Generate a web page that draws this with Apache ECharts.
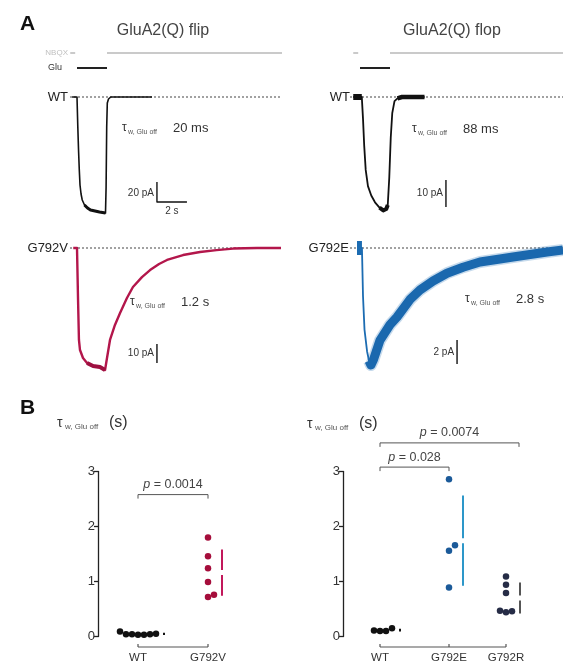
<!DOCTYPE html>
<html>
<head>
<meta charset="utf-8">
<title>GluA2(Q) deactivation</title>
<script src="https://cdn.jsdelivr.net/npm/echarts@6.0.0/dist/echarts.min.js"></script>
<style>
  html, body { margin: 0; padding: 0; background: #fff; }
  #main { width: 563px; height: 666px; }
</style>
</head>
<body>
<div id="main"></div>
<script>
'use strict';
// ---- A: example currents, time (s) from glutamate onset, current (pA) ----
var flipWtT = [-0.33, 0, 0.05, 0.1, 0.15, 0.2, 0.27, 0.35, 0.5, 0.7, 0.9, 1.2, 1.5, 1.9, 1.94, 1.98, 2.02, 2.1, 2.25, 5.0];
var flipWtI = [0, 0, -28, -52, -72, -88, -97, -103, -108, -111, -113, -114, -115, -116, -90, -30, -6, -2, 0, 0];
var flopWtT = [-0.45, 0.12, 0.2, 0.28, 0.38, 0.53, 0.75, 1.0, 1.3, 1.55, 1.75, 1.85, 1.95, 2.05, 2.15, 2.3, 2.5, 2.8, 3.2, 4.3];
var flopWtI = [0, 0, -8, -18, -27, -33, -36.5, -39, -41, -42, -41.5, -40, -30, -15, -6, -1.5, -0.5, 0, 0, 0];
var g792vT = [-0.25, 0, 0.07, 0.13, 0.2, 0.4, 0.67, 1.07, 1.53, 1.87, 2.0, 2.2, 2.53, 2.87, 3.33, 3.73, 4.33, 4.87, 5.47, 6.0, 7.07, 8.2, 9.3, 10.4, 12.0, 13.6];
var g792vI = [0, 0, -27.4, -48.4, -53.7, -57.9, -60.5, -62.1, -62.6, -64.2, -57.9, -48.4, -40.5, -34.2, -26.3, -20.5, -15.3, -11.6, -8.4, -6.3, -3.7, -2.1, -1.1, -0.3, 0, 0];
var g792eT = [-0.2, 0.13, 0.2, 0.3, 0.47, 0.6, 0.73, 0.9, 1.33, 2.0, 2.47, 3.33, 4.0, 4.87, 5.8, 6.87, 8.0, 9.33, 10.2, 12.47, 13.53];
var g792eI = [0, 0, -4, -6.8, -8.6, -9.4, -9.75, -9.3, -7.7, -6.4, -5.75, -4.3, -3.5, -2.75, -2.1, -1.6, -1.17, -0.92, -0.75, -0.33, -0.17];

// stimulus timing (s)
var gluPulse = [0, 2];
var nbqxPre = [-0.45, -0.12];
var nbqxFrom = 2;

// scale bars: flip WT, flop WT, G792V, G792E (pA) and time bar (s)
var scaleBarPA = [20, 10, 10, 2];
var scaleBarS = 2;

// ---- B: tau w, Glu off (s) ----
var flipGroups = ['WT', 'G792V'];
var wtFlipTau = [0.09, 0.04, 0.03, 0.03, 0.04, 0.04, 0.05];
var g792vTau = [1.80, 1.46, 1.24, 0.99, 0.76, 0.72];
var flopGroups = ['WT', 'G792E', 'G792R'];
var wtFlopTau = [0.15, 0.10, 0.10, 0.11];
var g792eTau = [2.86, 1.66, 1.56, 0.89];
var g792rTau = [1.09, 0.94, 0.79, 0.47, 0.44, 0.46];
var tauTicks = [0, 1, 2, 3];
var pFlip = ['0.0014'];
var pFlop = ['0.028', '0.0074'];

var FONT = 'Liberation Sans';
var PX_PER_S = 15;
var PX_PER_TAU = 165 / 3;
var DOT = 6;

function zip(t, v) { return t.map(function (x, i) { return [x, v[i]]; }); }
function inRange(d, a, b) { return d.filter(function (p) { return p[0] >= a && p[0] <= b; }); }

function timeAxis(gi, left, width, onsetPx) {
  var min = -(onsetPx - left) / PX_PER_S;
  return { gridIndex: gi, type: 'value', min: min, max: min + width / PX_PER_S, show: false };
}
function currentAxis(gi, top, height, zeroPx, pxPerUnit) {
  var max = (zeroPx - top) / pxPerUnit;
  return { gridIndex: gi, type: 'value', min: max - height / pxPerUnit, max: max, show: false };
}

var grids = [
  { left: 70, top: 48, width: 212, height: 25 },
  { left: 350, top: 48, width: 213, height: 25 },
  { left: 70, top: 80, width: 212, height: 145 },
  { left: 350, top: 80, width: 213, height: 145 },
  { left: 70, top: 236, width: 212, height: 145 },
  { left: 350, top: 236, width: 213, height: 145 },
  { left: 98, top: 471.5, width: 140, height: 165 },
  { left: 343, top: 471.5, width: 200, height: 165 }
];
var flipCat = [40, 110];
var flopCat = [37, 106, 163];

var xAxes = [
  timeAxis(0, 70, 212, 77), timeAxis(1, 350, 213, 360),
  timeAxis(2, 70, 212, 77), timeAxis(3, 350, 213, 360),
  timeAxis(4, 70, 212, 77), timeAxis(5, 350, 213, 360)
];
var yAxes = [
  { gridIndex: 0, type: 'value', min: 0, max: 5, show: false },
  { gridIndex: 1, type: 'value', min: 0, max: 5, show: false },
  currentAxis(2, 80, 145, 97, 1),
  currentAxis(3, 80, 145, 97, 2.7),
  currentAxis(4, 236, 145, 248, 1.9),
  currentAxis(5, 236, 145, 248, 12)
];

function groupAxisX(gi, width, cats, names) {
  return {
    gridIndex: gi, type: 'value', min: 0, max: width, position: 'bottom', offset: 10.5,
    axisLine: { show: false }, axisTick: { show: false }, splitLine: { show: false },
    axisLabel: {
      customValues: cats, margin: 5, fontSize: 11.5, fontFamily: FONT, color: '#333',
      formatter: function (v) { return names[cats.indexOf(v)] || ''; }
    }
  };
}
function groupAxisY(gi) {
  return {
    gridIndex: gi, type: 'value', min: tauTicks[0], max: tauTicks[tauTicks.length - 1], interval: 1,
    axisLine: { show: true, lineStyle: { color: '#222', width: 1.3 } },
    axisTick: { show: true, length: 4, lineStyle: { color: '#222', width: 1.3 } },
    axisLabel: { fontSize: 13, fontFamily: FONT, color: '#333', margin: 3 },
    splitLine: { show: false }
  };
}
xAxes.push(groupAxisX(6, 140, flipCat, flipGroups), groupAxisX(7, 200, flopCat, flopGroups));
yAxes.push(groupAxisY(6), groupAxisY(7));

var series = [];
function line(idx, data, color, width, z, opacity) {
  series.push({
    type: 'line', xAxisIndex: idx, yAxisIndex: idx, data: data, symbol: 'none', silent: true,
    z: z || 3, animation: false,
    lineStyle: { color: color, width: width, opacity: opacity == null ? 1 : opacity, cap: 'butt', join: 'round' }
  });
}
function baseline(idx) {
  line(idx, [[xAxes[idx].min, 0], [xAxes[idx].max, 0]], '#444', 1, 1);
  series[series.length - 1].lineStyle.type = [2, 2];
}

// stimulus bars
[0, 1].forEach(function (i) {
  line(i, [[nbqxPre[0], 4], [nbqxPre[1], 4]], '#b8b8b8', 1.5);
  line(i, [[nbqxFrom, 4], [xAxes[i].max, 4]], '#b8b8b8', 1.5);
  line(i, [[gluPulse[0], 1], [gluPulse[1], 1]], '#222', 2);
});

// flip WT
var flipWt = zip(flipWtT, flipWtI);
baseline(2);
line(2, flipWt, '#111', 1.6);
line(2, inRange(flipWt, 0.45, 1.9), '#111', 3);
// flop WT
var flopWt = zip(flopWtT, flopWtI);
baseline(3);
line(3, flopWt, '#111', 1.8);
line(3, inRange(flopWt, -0.45, 0.12), '#111', 6);
line(3, inRange(flopWt, 1.2, 1.85), '#111', 4);
line(3, inRange(flopWt, 2.5, 4.3), '#111', 4.5);
// G792V
var g792v = zip(g792vT, g792vI);
baseline(4);
line(4, g792v, '#b3164b', 2.4);
line(4, inRange(g792v, 0.5, 1.9), '#9e1040', 4);
// G792E
var g792e = zip(g792eT, g792eI);
baseline(5);
line(5, g792e, '#1c6cb2', 1.8);
line(5, inRange(g792e, 0.6, 14), '#1c6cb2', 12, 3, 0.25);
line(5, inRange(g792e, 0.6, 14), '#1a68ae', 9);
line(5, inRange(g792e, -0.2, 0.13), '#1c6cb2', 14);

// scale bars (anchor = bottom of the current bar)
var barAnchors = [[2, 5.33, -105], [3, 5.73, -40.7], [4, 5.33, -60.5], [5, 6.47, -9.67]];
barAnchors.forEach(function (a, i) {
  var pts = [[a[1], a[2] + scaleBarPA[i]], [a[1], a[2]]];
  if (i === 0) pts.push([a[1] + scaleBarS, a[2]]);
  line(a[0], pts, '#111', 1.4);
});

// B: swarm of points + mean ± SD
function swarm(vals, d) {
  var order = vals.map(function (v, i) { return i; }).sort(function (a, b) { return vals[a] - vals[b]; });
  var placed = [], off = [];
  order.forEach(function (i) {
    var y = vals[i] * PX_PER_TAU;
    for (var k = 0; k < 40; k++) {
      var o = k === 0 ? 0 : (k % 2 ? 1 : -1) * Math.ceil(k / 2) * d;
      var hit = placed.some(function (p) { var dx = p[0] - o, dy = p[1] - y; return dx * dx + dy * dy < d * d - 0.01; });
      if (!hit) { placed.push([o, y]); off[i] = o; break; }
    }
  });
  return off;
}
function meanSd(v) {
  var m = v.reduce(function (a, b) { return a + b; }, 0) / v.length;
  var s = Math.sqrt(v.reduce(function (a, b) { return a + (b - m) * (b - m); }, 0) / (v.length - 1));
  return [m, s];
}
function group(gi, center, vals, dotColor, barColor) {
  var off = swarm(vals, DOT);
  var st = meanSd(vals), m = st[0], sd = st[1];
  var bx = center + Math.max.apply(null, off) + 8;
  var gap = sd * PX_PER_TAU > 5 ? 2.5 / PX_PER_TAU : 0;
  series.push({
    type: 'scatter', xAxisIndex: gi, yAxisIndex: gi, silent: true, clip: false, z: 4, animation: false,
    data: vals.map(function (v, i) { return [center + off[i], v]; }),
    symbolSize: DOT + 0.5, itemStyle: { color: dotColor, opacity: 1 }
  });
  line(gi, [[bx, m - sd], [bx, m - gap], [bx, '-'], [bx, m + gap], [bx, m + sd]], barColor, 2);
}
group(6, flipCat[0], wtFlipTau, '#111', '#111');
group(6, flipCat[1], g792vTau, '#a50d3b', '#c2185b');
group(7, flopCat[0], wtFlopTau, '#111', '#111');
group(7, flopCat[1], g792eTau, '#1b5a99', '#2d97c9');
group(7, flopCat[2], g792rTau, '#262c46', '#555');

var chart = echarts.init(document.getElementById('main'));
chart.setOption({
  animation: false,
  backgroundColor: '#fff',
  grid: grids,
  xAxis: xAxes,
  yAxis: yAxes,
  series: series
});

// ---- annotations ----
function txt(x, y, s, size, o) {
  o = o || {};
  return {
    type: 'text', x: x, y: y, silent: true, z: 10,
    style: {
      text: s, fontSize: size, fontFamily: FONT, fontWeight: o.weight || 'normal',
      fontStyle: o.style || 'normal', fill: o.color || '#333',
      align: o.align || 'left', verticalAlign: 'middle',
      textAlign: o.align || 'left', textVerticalAlign: 'middle', rich: o.rich
    }
  };
}
function tauLabel(x, y, value, big) {
  var s = big ? 14 : 12;
  return [
    txt(x, y, 'τ', s, { color: '#333' }),
    txt(x + (big ? 8 : 6), y + 4, 'w, Glu off', big ? 8 : 7, { color: '#555' }),
    txt(x + (big ? 52 : 51), y, value, big ? 16 : 13, { color: '#333' })
  ];
}
function toPx(gi, pt) { return chart.convertToPixel({ gridIndex: gi }, pt); }

var g = [
  txt(20, 24, 'A', 21, { weight: 'bold', color: '#111' }),
  txt(20, 408, 'B', 21, { weight: 'bold', color: '#111' }),
  txt(163, 31, 'GluA2(Q) flip', 16, { align: 'center', color: '#444' }),
  txt(452, 31, 'GluA2(Q) flop', 16, { align: 'center', color: '#444' }),
  txt(68, 53, 'NBQX', 8, { align: 'right', color: '#c0c0c0' }),
  txt(62, 68, 'Glu', 9, { align: 'right', color: '#333' }),
  txt(68, 97, 'WT', 13, { align: 'right', color: '#222' }),
  txt(350, 97, 'WT', 13, { align: 'right', color: '#222' }),
  txt(68, 248, 'G792V', 13, { align: 'right', color: '#222' }),
  txt(349, 248, 'G792E', 13, { align: 'right', color: '#222' })
]
  .concat(tauLabel(122, 128, '20 ms'))
  .concat(tauLabel(412, 129, '88 ms'))
  .concat(tauLabel(130, 302, '1.2 s'))
  .concat(tauLabel(465, 299, '2.8 s'))
  .concat(tauLabel(57, 423, '(s)', true))
  .concat(tauLabel(307, 424, '(s)', true));

// scale bar labels
barAnchors.forEach(function (a, i) {
  var top = toPx(a[0], [a[1], a[2] + scaleBarPA[i]]);
  var bot = toPx(a[0], [a[1], a[2]]);
  g.push(txt(top[0] - 3, (top[1] + bot[1]) / 2 + (i === 0 ? 1 : 0), scaleBarPA[i] + ' pA', 10, { align: 'right', color: '#333' }));
  if (i === 0) {
    var r = toPx(a[0], [a[1] + scaleBarS, a[2]]);
    g.push(txt((bot[0] + r[0]) / 2, bot[1] + 9, scaleBarS + ' s', 10, { align: 'center', color: '#333' }));
  }
});

// group axes baselines
function groupBase(gi, cats) {
  var y = toPx(gi, [0, 0])[1] + 10.5;
  var x0 = toPx(gi, [cats[0], 0])[0], x1 = toPx(gi, [cats[cats.length - 1], 0])[0];
  g.push({ type: 'line', silent: true, shape: { x1: x0, y1: y, x2: x1, y2: y }, style: { stroke: '#555', lineWidth: 1.2 } });
  cats.forEach(function (c) {
    var x = toPx(gi, [c, 0])[0];
    g.push({ type: 'line', silent: true, shape: { x1: x, y1: y, x2: x, y2: y - 3 }, style: { stroke: '#555', lineWidth: 1.2 } });
  });
}
groupBase(6, flipCat);
groupBase(7, flopCat);

// significance brackets
function bracket(gi, xa, xb, level, p) {
  var a = toPx(gi, [xa, level]), b = toPx(gi, [xb, level]);
  g.push({
    type: 'polyline', silent: true,
    shape: { points: [[a[0], a[1] + 4], [a[0], a[1]], [b[0], b[1]], [b[0], b[1] + 4]] },
    style: { stroke: '#555', lineWidth: 1, fill: null }
  });
  g.push(txt((a[0] + b[0]) / 2, a[1] - 10, '{i|p} = ' + p, 12.5, {
    align: 'center', color: '#444',
    rich: { i: { fontStyle: 'italic', fontSize: 12.5, fontFamily: FONT, fill: '#444' } }
  }));
}
bracket(6, flipCat[0], flipCat[1], 2.58, pFlip[0]);
bracket(7, flopCat[0], flopCat[1], 3.08, pFlop[0]);
bracket(7, flopCat[0], flopCat[2] + 13, 3.52, pFlop[1]);

chart.setOption({ graphic: { elements: g } });
</script>
</body>
</html>
